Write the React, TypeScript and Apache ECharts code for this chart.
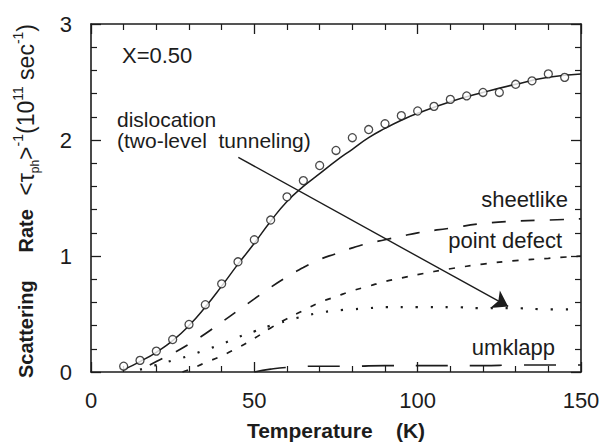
import React, { useEffect, useRef } from 'react';
import * as echarts from 'echarts';

// Measured scattering rate (open circles)
const measuredT = [10, 15, 20, 25, 30, 35, 40, 45, 50, 55, 60, 65, 70, 75, 80, 85, 90, 95, 100, 105, 110, 115, 120, 125, 130, 135, 140, 145];
const measuredRate = [0.05, 0.10, 0.18, 0.28, 0.41, 0.58, 0.76, 0.95, 1.14, 1.31, 1.51, 1.65, 1.78, 1.91, 2.02, 2.09, 2.14, 2.21, 2.25, 2.29, 2.35, 2.38, 2.41, 2.41, 2.48, 2.51, 2.57, 2.54];

// Total fit (solid)
const fitT = [10, 15, 20, 25, 30, 35, 40, 45, 50, 55, 60, 65, 70, 75, 80, 85, 90, 95, 100, 110, 120, 130, 140, 150];
const fitRate = [0.02, 0.09, 0.17, 0.27, 0.40, 0.56, 0.74, 0.93, 1.11, 1.30, 1.47, 1.60, 1.71, 1.82, 1.92, 2.02, 2.10, 2.17, 2.23, 2.33, 2.41, 2.48, 2.54, 2.57];

// Sheetlike (long dashes)
const sheetT = [18, 20, 25, 30, 35, 40, 45, 50, 55, 60, 65, 70, 75, 80, 85, 90, 95, 100, 110, 120, 130, 140, 150];
const sheetRate = [0.06, 0.09, 0.16, 0.24, 0.33, 0.43, 0.53, 0.63, 0.73, 0.82, 0.90, 0.97, 1.02, 1.07, 1.11, 1.14, 1.17, 1.20, 1.24, 1.28, 1.30, 1.31, 1.32];

// Point defect (short dashes)
const pointT = [28, 30, 35, 40, 45, 50, 55, 60, 65, 70, 75, 80, 85, 90, 95, 100, 110, 120, 130, 140, 150];
const pointRate = [0.0, 0.02, 0.08, 0.14, 0.21, 0.29, 0.38, 0.46, 0.53, 0.60, 0.65, 0.70, 0.74, 0.78, 0.81, 0.84, 0.89, 0.93, 0.96, 0.98, 1.0];

// Dislocation, two-level tunneling (dotted)
const dislocT = [15, 20, 25, 30, 35, 40, 45, 50, 55, 60, 65, 70, 75, 80, 85, 90, 100, 110, 120, 130, 140, 150];
const dislocRate = [0.02, 0.06, 0.10, 0.14, 0.19, 0.24, 0.30, 0.35, 0.40, 0.44, 0.48, 0.51, 0.53, 0.54, 0.55, 0.56, 0.56, 0.56, 0.55, 0.55, 0.54, 0.54];

// Umklapp (very long dashes)
const umklappT = [50, 55, 60, 70, 80, 90, 100, 110, 120, 130, 140, 150];
const umklappRate = [0.0, 0.025, 0.04, 0.05, 0.05, 0.055, 0.055, 0.055, 0.055, 0.06, 0.06, 0.06];

// Arrow from the "dislocation" label to the dotted curve
const arrowFrom = [45.1, 1.85];
const arrowTo = [127.7, 0.565];

const FONT = "'Liberation Sans', Arial, Helvetica, sans-serif";
const INK = '#1c1c1c';

const pair = (xs: number[], ys: number[]) => xs.map((x, i) => [x, ys[i]]);

export default function App() {
  const ref = useRef<HTMLDivElement>(null);

  useEffect(() => {
    if (!ref.current) return;
    const chart = echarts.init(ref.current, undefined, { renderer: 'svg' });

    const tickCommon = { show: true, inside: true, lineStyle: { color: INK, width: 1.3 } };
    const axisLine = { show: true, onZero: false, lineStyle: { color: INK, width: 1.6 } };
    const minorTick = { show: true, splitNumber: 5, length: 6, lineStyle: { color: INK, width: 1.2 } };

    const lineBase = (name: string, xs: number[], ys: number[], type: any, width: number) => ({
      name,
      type: 'line',
      data: pair(xs, ys),
      showSymbol: false,
      symbol: 'none',
      smooth: 0.5,
      lineStyle: { color: INK, width, type },
      silent: true,
      z: 3,
    });

    chart.setOption({
      animation: false,
      backgroundColor: '#ffffff',
      grid: { left: 91, right: 28, top: 24, bottom: 76, containLabel: false },
      xAxis: [
        {
          type: 'value',
          min: 0,
          max: 150,
          interval: 50,
          position: 'bottom',
          name: 'Temperature    (K)',
          nameLocation: 'middle',
          nameGap: 48,
          nameTextStyle: { fontFamily: FONT, fontSize: 21, fontWeight: 'bold', color: INK },
          axisLine,
          axisTick: { ...tickCommon, length: 10 },
          minorTick,
          axisLabel: { fontFamily: FONT, fontSize: 22, color: INK, margin: 17 },
          splitLine: { show: false },
        },
        {
          type: 'value',
          min: 0,
          max: 150,
          interval: 50,
          position: 'top',
          axisLine,
          axisTick: { ...tickCommon, length: 10 },
          minorTick,
          axisLabel: { show: false },
          splitLine: { show: false },
        },
      ],
      yAxis: [
        {
          type: 'value',
          min: 0,
          max: 3,
          interval: 1,
          position: 'left',
          name:
            '{b|Scattering     Rate}    {m|<τ}{sub|ph}{m|>}{sup|-1}{m|(10}{sup|11}{m| sec}{sup|-1}{m|)}',
          nameLocation: 'middle',
          nameRotate: 90,
          nameGap: 50,
          nameTextStyle: {
            fontFamily: FONT,
            color: INK,
            padding: [0, 6, 0, 0],
            rich: {
              b: { fontFamily: FONT, fontSize: 20, fontWeight: 'bold', color: INK, lineHeight: 30, verticalAlign: 'middle' },
              m: { fontFamily: FONT, fontSize: 23, color: INK, lineHeight: 30, verticalAlign: 'middle' },
              sup: { fontFamily: FONT, fontSize: 14, color: INK, lineHeight: 30, verticalAlign: 'top' },
              sub: { fontFamily: FONT, fontSize: 12, color: INK, lineHeight: 30, verticalAlign: 'bottom' },
            },
          },
          axisLine,
          axisTick: { ...tickCommon, length: 10 },
          minorTick,
          axisLabel: { fontFamily: FONT, fontSize: 22, color: INK, margin: 19, padding: [5, 0, 0, 0] },
          splitLine: { show: false },
        },
        {
          type: 'value',
          min: 0,
          max: 3,
          interval: 1,
          position: 'right',
          axisLine,
          axisTick: { ...tickCommon, length: 10 },
          minorTick,
          axisLabel: { show: false },
          splitLine: { show: false },
        },
      ],
      series: [
        {
          ...lineBase('total', fitT, fitRate, 'solid', 1.5),
          markLine: {
            silent: true,
            animation: false,
            symbol: ['none', 'arrow'],
            symbolSize: 15,
            label: { show: false },
            lineStyle: { color: INK, width: 1.4, type: 'solid' },
            itemStyle: { color: INK },
            emphasis: { disabled: true },
            data: [[{ coord: arrowFrom }, { coord: arrowTo }]],
          },
        },
        lineBase('sheetlike', sheetT, sheetRate, [14, 15], 1.7),
        lineBase('point defect', pointT, pointRate, [6, 10], 1.7),
        lineBase('dislocation', dislocT, dislocRate, [2.2, 12.8], 2.2),
        lineBase('umklapp', umklappT, umklappRate, [32, 22], 1.6),
        {
          name: 'measured',
          type: 'scatter',
          data: pair(measuredT, measuredRate),
          symbol: 'circle',
          symbolSize: 8,
          itemStyle: { color: '#ffffff', borderColor: INK, borderWidth: 1.3 },
          silent: true,
          z: 5,
        },
      ],
      graphic: [
        { type: 'text', x: 122, y: 55, style: { text: 'X=0.50', font: `22px ${FONT}`, fill: INK, align: 'left', verticalAlign: 'middle' } },
        {
          type: 'text',
          x: 117,
          y: 130,
          style: {
            text: 'dislocation\n(two-level  tunneling)',
            font: `21px ${FONT}`,
            lineHeight: 21,
            fill: INK,
            align: 'left',
            verticalAlign: 'middle',
          },
        },
        { type: 'text', x: 568, y: 199, style: { text: 'sheetlike', font: `22px ${FONT}`, fill: INK, align: 'right', verticalAlign: 'middle' } },
        { type: 'text', x: 562, y: 240.5, style: { text: 'point defect', font: `22px ${FONT}`, fill: INK, align: 'right', verticalAlign: 'middle' } },
        { type: 'text', x: 555, y: 347.5, style: { text: 'umklapp', font: `22px ${FONT}`, fill: INK, align: 'right', verticalAlign: 'middle' } },
      ],
    });

    return () => chart.dispose();
  }, []);

  return (
    <div
      ref={ref}
      style={{ position: 'fixed', left: 0, top: 0, width: 609, height: 448, background: '#fff' }}
    />
  );
}
